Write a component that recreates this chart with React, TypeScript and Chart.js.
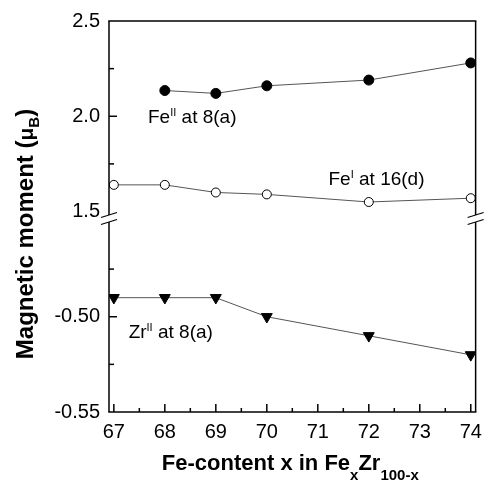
import React, { useEffect, useRef } from 'react';
import { Chart, registerables } from 'chart.js';

Chart.register(...registerables);

const FONT = '"Liberation Sans", Arial, Helvetica, sans-serif';

// ---- data ----
const feIIx = [68, 69, 70, 72, 74];
const feIIy = [2.135, 2.12, 2.16, 2.19, 2.28];
const feIx = [67, 68, 69, 70, 72, 74];
const feIy = [1.64, 1.64, 1.6, 1.59, 1.55, 1.57];
const zrIIx = [67, 68, 69, 70, 72, 74];
const zrIIy = [-0.49, -0.49, -0.49, -0.5, -0.51, -0.52];

// ---- ticks ----
const xMajorTicks = [67, 68, 69, 70, 71, 72, 73, 74];
const xMinorTicks = [67.5, 68.5, 69.5, 70.5, 71.5, 72.5, 73.5];
const yTopMajorTicks = [1.5, 2.0, 2.5];
const yTopMinorTicks = [1.75, 2.25];
const yBotMajorTicks = [-0.55, -0.5];
const yBotMinorTicks = [-0.525, -0.475];

const isIn = (arr: number[], v: number) => arr.some((a) => Math.abs(a - v) < 1e-6);

type Seg = { text: string; size: number; bold?: boolean; dy?: number };

function drawRich(ctx: CanvasRenderingContext2D, x: number, y: number, segs: Seg[], align: 'left' | 'center') {
  const widths = segs.map((s) => {
    ctx.font = `${s.bold ? 'bold ' : ''}${s.size}px ${FONT}`;
    return ctx.measureText(s.text).width;
  });
  const total = widths.reduce((a, b) => a + b, 0);
  let cx = align === 'center' ? x - total / 2 : x;
  ctx.textAlign = 'left';
  ctx.textBaseline = 'alphabetic';
  segs.forEach((s, i) => {
    ctx.font = `${s.bold ? 'bold ' : ''}${s.size}px ${FONT}`;
    ctx.fillText(s.text, cx, y + (s.dy || 0));
    cx += widths[i];
  });
}

const framePlugin = {
  id: 'frame',
  afterDraw(chart: any) {
    const ctx: CanvasRenderingContext2D = chart.ctx;
    const { left, right, top, bottom } = chart.chartArea;
    const xs = chart.scales.x;
    const yt = chart.scales.yTop;
    const yb = chart.scales.yBot;
    const yBreak = yt.bottom;
    const b1 = yBreak + 3.5;
    const b2 = yBreak + 10.5;
    ctx.save();
    ctx.strokeStyle = '#000';
    ctx.fillStyle = '#000';
    ctx.lineWidth = 1.5;
    ctx.lineCap = 'butt';
    const line = (x1: number, y1: number, x2: number, y2: number) => {
      ctx.beginPath();
      ctx.moveTo(x1, y1);
      ctx.lineTo(x2, y2);
      ctx.stroke();
    };
    // frame
    line(left - 0.75, top, right + 0.75, top);
    line(left - 0.75, bottom, right + 0.75, bottom);
    for (const ax of [left, right]) {
      line(ax, top, ax, b1);
      line(ax, b2, ax, bottom);
      ctx.lineWidth = 1.2;
      line(ax - 8, b1 + 2.5, ax + 8, b1 - 2.5);
      line(ax - 8, b2 + 2.5, ax + 8, b2 - 2.5);
      ctx.lineWidth = 1.5;
    }
    // ticks (inward)
    for (const v of xMajorTicks) {
      const p = xs.getPixelForValue(v);
      line(p, bottom, p, bottom - 8);
    }
    for (const v of xMinorTicks) {
      const p = xs.getPixelForValue(v);
      line(p, bottom, p, bottom - 4);
    }
    for (const v of yTopMajorTicks) {
      const p = yt.getPixelForValue(v);
      if (Math.abs(p - top) > 1 && Math.abs(p - yBreak) > 1) line(left, p, left + 8, p);
    }
    for (const v of yTopMinorTicks) {
      const p = yt.getPixelForValue(v);
      line(left, p, left + 5, p);
    }
    for (const v of yBotMajorTicks) {
      const p = yb.getPixelForValue(v);
      if (Math.abs(p - bottom) > 1) line(left, p, left + 8, p);
    }
    for (const v of yBotMinorTicks) {
      const p = yb.getPixelForValue(v);
      line(left, p, left + 5, p);
    }

    // annotations
    drawRich(
      ctx,
      xs.getPixelForValue(67.67),
      yt.getPixelForValue(1.964),
      [
        { text: 'Fe', size: 19 },
        { text: 'II', size: 11, dy: -7 },
        { text: ' at 8(a)', size: 19 },
      ],
      'left'
    );
    drawRich(
      ctx,
      xs.getPixelForValue(71.21),
      yt.getPixelForValue(1.638),
      [
        { text: 'Fe', size: 19 },
        { text: 'I', size: 11, dy: -7 },
        { text: ' at 16(d)', size: 19 },
      ],
      'left'
    );
    drawRich(
      ctx,
      xs.getPixelForValue(67.29),
      yb.getPixelForValue(-0.511),
      [
        { text: 'Zr', size: 19 },
        { text: 'II', size: 11, dy: -7 },
        { text: ' at 8(a)', size: 19 },
      ],
      'left'
    );

    // axis titles
    drawRich(
      ctx,
      (left + right) / 2 - 2,
      470,
      [
        { text: 'Fe-content x in Fe', size: 22, bold: true },
        { text: 'x', size: 15, bold: true, dy: 10 },
        { text: 'Zr', size: 22, bold: true },
        { text: '100-x', size: 15, bold: true, dy: 10 },
      ],
      'center'
    );
    ctx.save();
    ctx.translate(33, 234);
    ctx.rotate(-Math.PI / 2);
    drawRich(
      ctx,
      0,
      0,
      [
        { text: 'Magnetic moment (', size: 24, bold: true },
        { text: 'μ', size: 21, bold: true },
        { text: 'B', size: 15, bold: true, dy: 6 },
        { text: ')', size: 24, bold: true },
      ],
      'center'
    );
    ctx.restore();
    ctx.restore();
  },
};

export default function App() {
  const ref = useRef<HTMLCanvasElement>(null);
  useEffect(() => {
    const canvas = ref.current;
    if (!canvas) return;
    const tickFont = { family: FONT, size: 20 };
    const chart = new Chart(canvas, {
      type: 'line',
      data: {
        datasets: [
          {
            label: 'Fe II at 8(a)',
            data: feIIx.map((x, i) => ({ x, y: feIIy[i] })),
            xAxisID: 'x',
            yAxisID: 'yTop',
            borderColor: '#555',
            borderWidth: 1,
            pointStyle: 'circle',
            pointRadius: 5,
            pointBackgroundColor: '#000',
            pointBorderColor: '#000',
            pointBorderWidth: 1,
            tension: 0,
            fill: false,
          },
          {
            label: 'Fe I at 16(d)',
            data: feIx.map((x, i) => ({ x, y: feIy[i] })),
            xAxisID: 'x',
            yAxisID: 'yTop',
            borderColor: '#555',
            borderWidth: 1,
            pointStyle: 'circle',
            pointRadius: 4.5,
            pointBackgroundColor: '#fff',
            pointBorderColor: '#000',
            pointBorderWidth: 1,
            tension: 0,
            fill: false,
          },
          {
            label: 'Zr II at 8(a)',
            data: zrIIx.map((x, i) => ({ x, y: zrIIy[i] })),
            xAxisID: 'x',
            yAxisID: 'yBot',
            borderColor: '#555',
            borderWidth: 1,
            pointStyle: 'triangle',
            pointRotation: 180,
            pointRadius: 6.3,
            pointBackgroundColor: '#000',
            pointBorderColor: '#000',
            pointBorderWidth: 1,
            tension: 0,
            fill: false,
          },
        ] as any,
      },
      options: {
        responsive: false,
        maintainAspectRatio: false,
        animation: false,
        devicePixelRatio: 1,
        layout: { padding: { top: 18, right: 7, left: 0, bottom: 0 } },
        plugins: { legend: { display: false }, tooltip: { enabled: false } },
        scales: {
          x: {
            type: 'linear',
            position: 'bottom',
            min: 66.905,
            max: 74.095,
            grid: { display: false, drawTicks: false },
            border: { display: false },
            afterBuildTicks: (s: any) => {
              s.ticks = xMajorTicks.map((v) => ({ value: v }));
            },
            afterFit: (s: any) => {
              s.height = 76;
            },
            ticks: {
              autoSkip: false,
              maxRotation: 0,
              padding: 8,
              color: '#000',
              font: tickFont,
              callback: (v: any) => String(v),
            },
          },
          yBot: {
            type: 'linear',
            position: 'left',
            stack: 'y',
            stackWeight: 202,
            min: -0.55,
            max: -0.55 + (202 / 96) * 0.05,
            grid: { display: false, drawTicks: false },
            border: { display: false },
            afterBuildTicks: (s: any) => {
              s.ticks = yBotMajorTicks.map((v) => ({ value: v }));
            },
            afterFit: (s: any) => {
              s.width = 109;
            },
            ticks: {
              autoSkip: false,
              padding: 9,
              color: '#000',
              font: tickFont,
              callback: (v: any) => (isIn(yBotMajorTicks, Number(v)) ? Number(v).toFixed(2) : ''),
            },
          },
          yTop: {
            type: 'linear',
            position: 'left',
            stack: 'y',
            stackWeight: 192,
            min: 1.5,
            max: 2.5,
            grid: { display: false, drawTicks: false },
            border: { display: false },
            afterBuildTicks: (s: any) => {
              s.ticks = yTopMajorTicks.map((v) => ({ value: v }));
            },
            afterFit: (s: any) => {
              s.width = 109;
            },
            ticks: {
              autoSkip: false,
              padding: 9,
              color: '#000',
              font: tickFont,
              callback: (v: any) => (isIn(yTopMajorTicks, Number(v)) ? Number(v).toFixed(1) : ''),
            },
          },
        },
      } as any,
      plugins: [framePlugin],
    });
    return () => chart.destroy();
  }, []);
  return (
    <div style={{ position: 'fixed', left: 0, top: 0, width: 490, height: 488, background: '#fff' }}>
      <canvas ref={ref} width={490} height={488} style={{ display: 'block', width: 490, height: 488 }} />
    </div>
  );
}
